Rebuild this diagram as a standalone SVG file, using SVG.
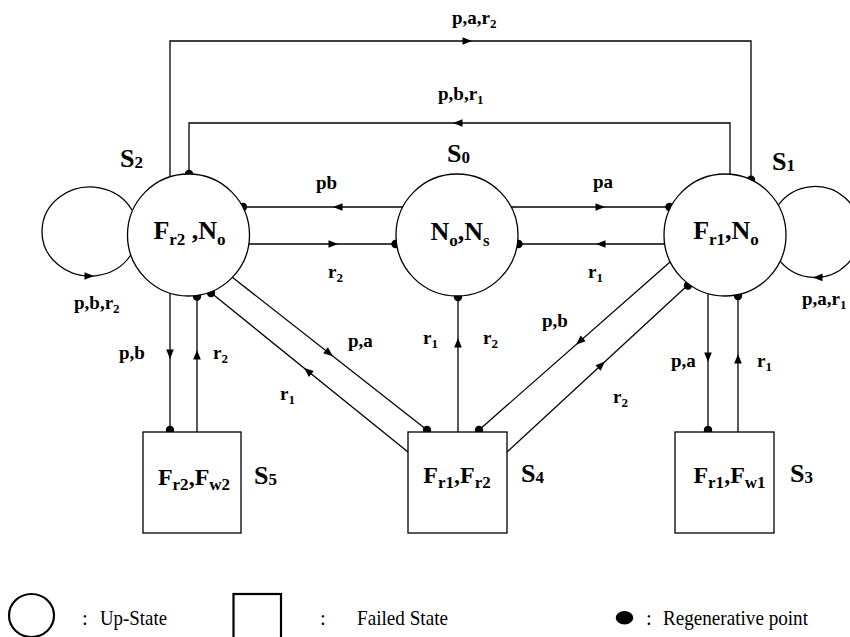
<svg xmlns="http://www.w3.org/2000/svg" xmlns:xlink="http://www.w3.org/1999/xlink" width="850" height="637" viewBox="0 0 850 637">
<style>
  .st { fill: #fff; stroke: #000; stroke-width: 1.3; }
  .ln { fill: none; stroke: #000; stroke-width: 1.3; }
  .dot { fill: #000; }
  .ah { fill: #000; }
  .nl { font-family: "Liberation Serif", "Times New Roman", serif; font-weight: bold; font-size: 26px; fill: #000; }
  .bl { font-family: "Liberation Serif", "Times New Roman", serif; font-weight: bold; font-size: 24px; fill: #000; }
  .sl { font-family: "Liberation Serif", "Times New Roman", serif; font-weight: bold; font-size: 26px; fill: #000; }
  .tl { font-family: "Liberation Serif", "Times New Roman", serif; font-weight: bold; font-size: 19px; fill: #000; }
  .lg { font-family: "Liberation Serif", "Times New Roman", serif; font-size: 21px; fill: #000; }
  .sub { font-size: 17px; }
  .ts { font-size: 13px; }
  .ss { font-size: 17px; }
</style>
<defs>
  <path id="ah" d="M0,0 L-9.5,-3.8 L-9.5,3.8 Z"/>
</defs>

<g id="connectors">
  <!-- top outer: S2 -> S1 p,a,r2 -->
  <path class="ln" d="M170,176.7 V41 H751 V179.8"/>
  <use href="#ah" class="ah" transform="translate(472,41)"/>
  <circle class="dot" cx="751" cy="179.8" r="4.2"/>
  <!-- top inner: S1 -> S2 p,b,r1 -->
  <path class="ln" d="M730,174.2 V123 H189 V174"/>
  <use href="#ah" class="ah" transform="translate(453,123) rotate(180)"/>
  <circle class="dot" cx="189" cy="174" r="4.2"/>
  <!-- S0 -> S2 pb -->
  <path class="ln" d="M402.8,207 H242.2"/>
  <use href="#ah" class="ah" transform="translate(333,207) rotate(180)"/>
  <circle class="dot" cx="243" cy="207" r="4.2"/>
  <!-- S2 -> S0 r2 -->
  <path class="ln" d="M248.3,244 H396.7"/>
  <use href="#ah" class="ah" transform="translate(338,244)"/>
  <circle class="dot" cx="395.5" cy="244" r="4.2"/>
  <!-- S0 -> S1 pa -->
  <path class="ln" d="M511.2,207 H670.8"/>
  <use href="#ah" class="ah" transform="translate(605,207)"/>
  <circle class="dot" cx="669.5" cy="207" r="4.2"/>
  <!-- S1 -> S0 r1 -->
  <path class="ln" d="M664.7,244 H517.3"/>
  <use href="#ah" class="ah" transform="translate(596,244) rotate(180)"/>
  <circle class="dot" cx="518.5" cy="244" r="4.2"/>
  <!-- S2 self loop -->
  <path class="ln" d="M132,210 A48,44.5 0 1 0 130.8,255"/>
  <use href="#ah" class="ah" transform="translate(94,276)"/>
  <!-- S1 self loop -->
  <path class="ln" d="M778.2,205.2 A45.5,45.5 0 1 1 780.1,261.2"/>
  <use href="#ah" class="ah" transform="translate(813,277.4) rotate(180)"/>
  <!-- S2 -> S5 p,b -->
  <path class="ln" d="M170,293.3 V432"/>
  <use href="#ah" class="ah" transform="translate(170,359) rotate(90)"/>
  <circle class="dot" cx="170" cy="430" r="4.2"/>
  <!-- S5 -> S2 r2 -->
  <path class="ln" d="M197,432 V295.3"/>
  <use href="#ah" class="ah" transform="translate(197,350) rotate(-90)"/>
  <circle class="dot" cx="197" cy="296.5" r="4.2"/>
  <!-- S2 -> S4 p,a -->
  <path class="ln" d="M232,277 L427,430"/>
  <use href="#ah" class="ah" transform="translate(333,356.2) rotate(38.1)"/>
  <circle class="dot" cx="427" cy="430" r="4.2"/>
  <!-- S4 -> S2 r1 -->
  <path class="ln" d="M408,452 L210,292"/>
  <use href="#ah" class="ah" transform="translate(304,368) rotate(218.9)"/>
  <circle class="dot" cx="211" cy="293" r="4.2"/>
  <!-- S4 -> S0 -->
  <path class="ln" d="M458,432 V296"/>
  <use href="#ah" class="ah" transform="translate(458,338) rotate(-90)"/>
  <circle class="dot" cx="458" cy="297" r="4.2"/>
  <!-- S1 -> S4 p,b -->
  <path class="ln" d="M670,262 L479,430"/>
  <use href="#ah" class="ah" transform="translate(576,344.7) rotate(138.7)"/>
  <circle class="dot" cx="479" cy="430" r="4.2"/>
  <!-- S4 -> S1 r2 -->
  <path class="ln" d="M507,452 L689,284"/>
  <use href="#ah" class="ah" transform="translate(605,361.5) rotate(-42.7)"/>
  <circle class="dot" cx="688" cy="285.5" r="4.2"/>
  <!-- S1 -> S3 p,a -->
  <path class="ln" d="M708,293.6 V432"/>
  <use href="#ah" class="ah" transform="translate(708,362) rotate(90)"/>
  <circle class="dot" cx="708" cy="430" r="4.2"/>
  <!-- S3 -> S1 r1 -->
  <path class="ln" d="M738,432 V294.6"/>
  <use href="#ah" class="ah" transform="translate(738,354) rotate(-90)"/>
  <circle class="dot" cx="738" cy="296" r="4.2"/>

  <!-- transition labels -->
  <text class="tl" x="452" y="24">p,a,r<tspan class="ts" dy="4">2</tspan></text>
  <text class="tl" x="438" y="100">p,b,r<tspan class="ts" dy="4">1</tspan></text>
  <text class="tl" x="316" y="189">pb</text>
  <text class="tl" x="328" y="278">r<tspan class="ts" dy="4">2</tspan></text>
  <text class="tl" x="593" y="188">pa</text>
  <text class="tl" x="588" y="278">r<tspan class="ts" dy="4">1</tspan></text>
  <text class="tl" x="74" y="309">p,b,r<tspan class="ts" dy="4">2</tspan></text>
  <text class="tl" x="802" y="305">p,a,r<tspan class="ts" dy="4">1</tspan></text>
  <text class="tl" x="119" y="359">p,b</text>
  <text class="tl" x="213" y="359">r<tspan class="ts" dy="4">2</tspan></text>
  <text class="tl" x="348" y="347">p,a</text>
  <text class="tl" x="280" y="400">r<tspan class="ts" dy="4">1</tspan></text>
  <text class="tl" x="423" y="344">r<tspan class="ts" dy="4">1</tspan></text>
  <text class="tl" x="483" y="344">r<tspan class="ts" dy="4">2</tspan></text>
  <text class="tl" x="542" y="327">p,b</text>
  <text class="tl" x="613" y="403">r<tspan class="ts" dy="4">2</tspan></text>
  <text class="tl" x="671" y="367">p,a</text>
  <text class="tl" x="757" y="367">r<tspan class="ts" dy="4">1</tspan></text>
</g>

<g id="S2">
  <circle class="st" cx="188.5" cy="235" r="61"/>
  <text class="nl" x="189.5" y="239" text-anchor="middle">F<tspan class="sub" dy="6">r2</tspan><tspan dy="-6"> ,N</tspan><tspan class="sub" dy="6">o</tspan></text>
  <text class="sl" x="120" y="167">S<tspan class="ss" dy="1">2</tspan></text>
</g>
<g id="S0">
  <circle class="st" cx="457" cy="235" r="61"/>
  <text class="nl" x="460" y="240" text-anchor="middle">N<tspan class="sub" dy="6">o</tspan><tspan dy="-6">,N</tspan><tspan class="sub" dy="6">s</tspan></text>
  <text class="sl" x="447" y="162">S<tspan class="ss" dy="1">0</tspan></text>
</g>
<g id="S1">
  <circle class="st" cx="725" cy="235" r="61"/>
  <text class="nl" x="726" y="239" text-anchor="middle">F<tspan class="sub" dy="6">r1</tspan><tspan dy="-6">,N</tspan><tspan class="sub" dy="6">o</tspan></text>
  <text class="sl" x="772" y="170">S<tspan class="ss" dy="1">1</tspan></text>
</g>
<g id="S5">
  <rect class="st" x="143" y="432" width="98" height="101"/>
  <text class="bl" x="194" y="485" text-anchor="middle">F<tspan class="sub" dy="5">r2</tspan><tspan dy="-5">,F</tspan><tspan class="sub" dy="5">w2</tspan></text>
  <text class="sl" x="254" y="484">S<tspan class="ss" dy="1">5</tspan></text>
</g>
<g id="S4">
  <rect class="st" x="408" y="432" width="99" height="101"/>
  <text class="bl" x="457" y="483" text-anchor="middle">F<tspan class="sub" dy="5">r1</tspan><tspan dy="-5">,F</tspan><tspan class="sub" dy="5">r2</tspan></text>
  <text class="sl" x="521" y="482">S<tspan class="ss" dy="1">4</tspan></text>
</g>
<g id="S3">
  <rect class="st" x="675" y="432" width="99" height="101"/>
  <text class="bl" x="729.5" y="483" text-anchor="middle">F<tspan class="sub" dy="5">r1</tspan><tspan dy="-5">,F</tspan><tspan class="sub" dy="5">w1</tspan></text>
  <text class="sl" x="790" y="482">S<tspan class="ss" dy="1">3</tspan></text>
</g>

<g id="legend">
  <ellipse cx="31.5" cy="615.5" rx="22.5" ry="21.5" fill="none" stroke="#000" stroke-width="2.2"/>
  <text class="lg" x="82" y="625">:</text>
  <text class="lg" x="100" y="625" textLength="67" lengthAdjust="spacingAndGlyphs">Up-State</text>
  <rect x="233.5" y="594" width="47.5" height="46" fill="none" stroke="#000" stroke-width="2.2"/>
  <text class="lg" x="320" y="625">:</text>
  <text class="lg" x="357" y="625" textLength="91" lengthAdjust="spacingAndGlyphs">Failed State</text>
  <ellipse cx="624.5" cy="617.7" rx="8.8" ry="6.8" fill="#000"/>
  <text class="lg" x="646" y="625">:</text>
  <text class="lg" x="663" y="625" textLength="145" lengthAdjust="spacingAndGlyphs">Regenerative point</text>
</g>
</svg>
